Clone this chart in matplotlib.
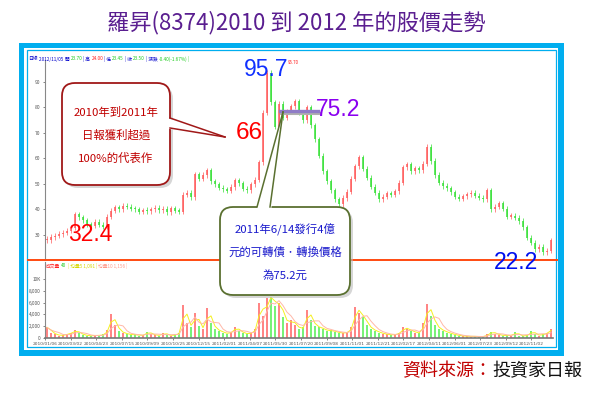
import matplotlib
matplotlib.use('Agg')
import matplotlib.pyplot as plt
import numpy as np
import pandas as pd
from matplotlib.patches import Rectangle, FancyBboxPatch, Polygon
from matplotlib.lines import Line2D
from matplotlib.transforms import Affine2D

plt.rcParams['font.family'] = ['Noto Sans CJK TC', 'DejaVu Sans']

# ---------------- data ----------------
title = "羅昇(8374)2010 到 2012 年的股價走勢"
source_label = "資料來源："
source_name = "投資家日報"

date_labels = ["2010/01/06", "2010/03/02", "2010/04/23", "2010/07/15", "2010/09/09",
               "2010/10/25", "2010/12/15", "2011/02/01", "2011/04/07", "2011/05/30",
               "2011/07/20", "2011/09/08", "2011/11/01", "2011/12/21", "2012/02/17",
               "2012/04/11", "2012/06/01", "2012/07/23", "2012/09/12", "2012/11/02"]

close = [28.0, 29.2, 29.8, 30.4, 30.9, 31.6, 32.8, 38.2, 37.0, 35.8,
         34.2, 33.6, 35.1, 34.0, 33.2, 37.1, 39.6, 40.8, 40.2, 41.4,
         41.0, 40.3, 40.0, 39.2, 39.6, 39.3, 40.1, 40.6, 39.8, 40.2,
         39.0, 40.4, 39.5, 39.2, 45.8, 46.5, 44.9, 53.8, 52.0, 53.5,
         55.4, 51.0, 49.8, 48.6, 47.9, 47.3, 48.8, 51.5, 50.3, 48.2,
         47.6, 49.8, 51.6, 58.5, 78.0, 93.5, 82.0, 72.5, 81.5, 76.0,
         78.5, 80.5, 82.5, 78.0, 75.0, 80.0, 73.0, 67.5, 61.0, 55.0,
         51.0, 47.5, 44.0, 42.0, 44.5, 47.0, 52.0, 57.0, 60.5, 56.0,
         52.5, 49.0, 46.5, 44.0, 45.0, 46.3, 45.8, 47.2, 50.5, 56.5,
         57.8, 55.0, 56.2, 55.3, 58.0, 64.5, 59.0, 53.5, 50.5, 49.2,
         48.3, 46.8, 45.0, 44.3, 45.2, 46.0, 46.6, 45.4, 44.6, 44.0,
         47.6, 40.0, 41.0, 42.5, 40.3, 37.2, 37.6, 36.8, 35.5, 33.0,
         29.0, 27.0, 24.5, 25.3, 23.2, 23.8, 28.0]

volume = [1800, 900, 600, 400, 500, 700, 900, 1300, 800, 500,
          400, 350, 500, 400, 600, 1400, 4000, 2200, 1200, 800,
          700, 500, 600, 400, 500, 1100, 600, 500, 400, 900,
          500, 400, 600, 900, 5600, 2500, 1800, 4300, 2000, 1500,
          5000, 2500, 1500, 1200, 900, 700, 1100, 1800, 1200, 800,
          700, 900, 1500, 6000, 3800, 6800, 7000, 5500, 6000, 3500,
          2500, 3000, 2200, 1500, 1800, 4800, 3000, 2000, 1800, 1500,
          1200, 1300, 1000, 900, 800, 1000, 1800, 5200, 4200, 3500,
          2200, 1500, 1200, 900, 700, 600, 500, 600, 900, 1800,
          1500, 1200, 900, 800, 2500, 5800, 3800, 2200, 1500, 1200,
          900, 700, 500, 400, 300, 300, 250, 300, 200, 250,
          600, 1100, 700, 500, 400, 500, 400, 1000, 400, 300,
          500, 1200, 600, 400, 700, 900, 1600]

price_ticks = [30, 40, 50, 60, 70, 80, 90]
vol_ticks = [0, 2000, 4000, 6000, 8000, 10000]
vol_tick_labels = ["0", "2,000", "4,000", "6,000", "8,000", "10K"]

high_label, peak_label, cb_label, start_label, low_label = "95.7", "66", "75.2", "32.4", "22.2"
note1 = ["2010年到2011年", "日報獲利超過", "100%的代表作"]
note2 = ["2011年6/14發行4億", "元的可轉債．轉換價格", "為75.2元"]

# ---------------- figure ----------------
W, H = 600, 394
fig = plt.figure(figsize=(6, 3.94), dpi=100)
pix = Affine2D().scale(1 / W, -1 / H).translate(0, 1) + fig.transFigure
renderer = fig.canvas.get_renderer()

def frect(x0, y0, x1, y1, **kw):
    r = Rectangle((x0, y0), x1 - x0, y1 - y0, transform=pix, **kw)
    fig.add_artist(r)
    return r

def ftext(x, y, s, **kw):
    return fig.text(x, y, s, transform=pix, **kw)

def seq_text(x0, y, parts, size, gap=1.0):
    xx = x0
    for s, c in parts:
        t = ftext(xx, y, s, fontsize=size, color=c, va='center', ha='left', zorder=4)
        xx = t.get_window_extent(renderer).x1 + gap

BLUE = '#00aeef'
frect(19, 43, 564, 356, fc=BLUE, ec='none', zorder=0.1)
frect(24, 48, 558, 350, fc='white', ec='none', zorder=0.2)
frect(27, 50, 556, 347, fill=False, ec=BLUE, lw=0.9, zorder=0.3)

ftext(296, 23, title, ha='center', va='center', fontsize=16, color='#5a1e90')
t1 = ftext(582, 371, source_name, ha='right', va='center', fontsize=13, color='#111111')
bb = t1.get_window_extent(renderer)
ftext(bb.x0, 371, source_label, ha='right', va='center', fontsize=13, color='#c00000')

n = len(close)
x = np.arange(n)
opens = [close[0]] + close[:-1]
up = [c >= o for c, o in zip(close, opens)]

# price axes
ax = fig.add_axes([45 / W, 1 - 260 / H, 508 / W, 200 / H], zorder=2)
ax.set_facecolor('none')
ax.set_xlim(-0.5, n - 0.5)
ax.set_ylim(20.2, 98.6)
for i in range(n):
    lo, hi = min(opens[i], close[i]), max(opens[i], close[i])
    if hi - lo < 0.5:
        hi = lo + 0.5
    col = '#ff5a5a' if up[i] else '#35e035'
    ax.vlines(i, lo - 1.0, hi + 1.0, color=col, lw=0.5)
    ax.vlines(i, lo, hi, color=col, lw=1.1)
for s in ['top', 'right', 'bottom']:
    ax.spines[s].set_visible(False)
ax.spines['left'].set_color('#888888')
ax.spines['left'].set_linewidth(0.8)
ax.set_yticks(price_ticks)
ax.set_yticklabels([str(v) for v in price_ticks], fontsize=3.6, color='#333333')
ax.tick_params(axis='y', length=1.5, width=0.5, pad=2, colors='#555555')
ax.set_xticks([])

# volume axes
vx = fig.add_axes([45 / W, 1 - 338 / H, 508 / W, 76 / H], zorder=2)
vx.set_facecolor('none')
vx.set_xlim(-0.5, n - 0.5)
vx.set_ylim(0, 12880)
vx.bar(x, volume, width=0.55, color=['#ff7070' if u else '#60f060' for u in up], alpha=0.85)
vs = pd.Series(volume, dtype=float)
vx.plot(x, vs.rolling(2, min_periods=1).mean(), color='#f5f020', lw=0.7)
vx.plot(x, vs.rolling(4, min_periods=1).mean(), color='#ffb8a8', lw=0.7)
for s in ['top', 'right']:
    vx.spines[s].set_visible(False)
vx.spines['left'].set_color('#888888')
vx.spines['left'].set_linewidth(0.8)
vx.spines['bottom'].set_color('#777777')
vx.spines['bottom'].set_linewidth(1.2)
vx.set_yticks(vol_ticks)
vx.set_yticklabels(vol_tick_labels, fontsize=3.4, color='#333333')
tick_pos = [-0.5 + 6.4 * k for k in range(len(date_labels))]
vx.set_xticks(tick_pos)
vx.set_xticklabels(date_labels, fontsize=3.2, color='#333333', family='DejaVu Sans')
vx.tick_params(axis='both', length=1.5, width=0.5, pad=1.5, colors='#555555')

# separator
fig.add_artist(Line2D([28, 557], [260, 260], transform=pix, color='#ff4a10', lw=1.4, zorder=3))

# header rows
seq_text(28, 59, [("日線", '#0000cc'), (" 2012/11/05", '#0000cc'), ("開", '#0000cc'),
                  ("23.70", '#22cc22'), ("| 高", '#0000cc'), ("24.00", '#ff2020'),
                  ("| 低", '#0000cc'), ("23.45", '#22cc22'), ("| 收", '#0000cc'),
                  ("23.50", '#22cc22'), ("| 漲跌", '#0000cc'), ("-0.40(-1.67%)", '#22cc22'),
                  ("|", '#22cc22')], 3.4)
seq_text(46, 266, [("成交量", '#ff2020'), ("40", '#22cc22'), ("| 均量5 1,091 |", '#d8d800'),
                   ("均量10 1,156 |", '#ff9a8a')], 3.4)

# big numbers
num_font = ['Liberation Sans', 'DejaVu Sans']
ftext(266, 69, high_label, fontsize=16.5, color='#1030ff', ha='center', va='center', family=num_font, zorder=6)
ftext(288, 63, "95.70", fontsize=3.2, color='#ff2020', ha='left', va='center', zorder=6)
ftext(249, 133, peak_label, fontsize=17.5, color='#ff0000', ha='center', va='center', family=num_font, zorder=6)
ftext(338, 110, cb_label, fontsize=16.5, color='#8a00f0', ha='center', va='center', family=num_font, zorder=6)
ftext(90, 235, start_label, fontsize=16.5, color='#ff0000', ha='center', va='center', family=num_font, zorder=6)
ftext(516, 263, low_label, fontsize=16.5, color='#0010ee', ha='center', va='center', family=num_font, zorder=6)

# conversion price line
fig.add_artist(Line2D([281, 319], [113, 113], transform=pix, color='#b0b0b0', lw=2.2, zorder=4))
fig.add_artist(Line2D([280, 318], [111, 111], transform=pix, color='#8f7cc6', lw=2.4, zorder=4))

def callout(x0, y0, x1, y1, ec, tail_base, apex, zo):
    sh = FancyBboxPatch((x0 + 3, y0 + 3), x1 - x0, y1 - y0, boxstyle='round,pad=0,rounding_size=13',
                        transform=pix, fc='#bbbbbb', ec='none', alpha=0.6, zorder=zo)
    fig.add_artist(sh)
    box = FancyBboxPatch((x0, y0), x1 - x0, y1 - y0, boxstyle='round,pad=0,rounding_size=13',
                         transform=pix, fc='white', ec=ec, lw=1.3, zorder=zo + 0.1)
    fig.add_artist(box)
    (bx1, by1), (bx2, by2), (ix1, iy1), (ix2, iy2) = tail_base
    fig.add_artist(Polygon([(ix1, iy1), apex, (ix2, iy2)], closed=True, transform=pix,
                           fc='white', ec='none', zorder=zo + 0.2))
    fig.add_artist(Line2D([bx1, apex[0]], [by1, apex[1]], transform=pix, color=ec, lw=1.1, zorder=zo + 0.3))
    fig.add_artist(Line2D([bx2, apex[0]], [by2, apex[1]], transform=pix, color=ec, lw=1.1, zorder=zo + 0.3))

callout(62, 83, 170, 185, '#a01818',
        [(170, 118), (170, 128), (166, 117.5), (166, 128.5)], (225, 137), 5)
callout(220, 207, 350, 295, '#5a7030',
        [(257, 207), (270, 207), (256, 211), (271, 211)], (283, 112), 5)

for k, s in enumerate(note1):
    ftext(116, 112 + 23 * k, s, fontsize=8.2, color='#c00000', ha='center', va='center', zorder=6)
for k, s in enumerate(note2):
    ftext(285, 230 + 22.5 * k, s, fontsize=8.2, color='#1a1acc', ha='center', va='center', zorder=6)

fig.savefig('out.png', dpi=100)
